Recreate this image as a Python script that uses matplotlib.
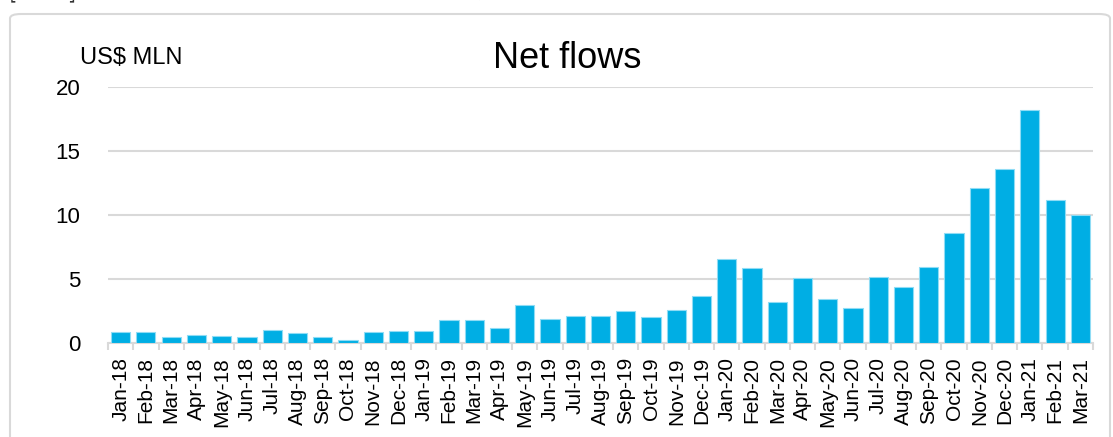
import matplotlib.pyplot as plt
from matplotlib.patches import FancyBboxPatch
import numpy as np

# Monthly net flows, US$ MLN
months = ["Jan-18", "Feb-18", "Mar-18", "Apr-18", "May-18", "Jun-18", "Jul-18",
          "Aug-18", "Sep-18", "Oct-18", "Nov-18", "Dec-18",
          "Jan-19", "Feb-19", "Mar-19", "Apr-19", "May-19", "Jun-19", "Jul-19",
          "Aug-19", "Sep-19", "Oct-19", "Nov-19", "Dec-19",
          "Jan-20", "Feb-20", "Mar-20", "Apr-20", "May-20", "Jun-20", "Jul-20",
          "Aug-20", "Sep-20", "Oct-20", "Nov-20", "Dec-20",
          "Jan-21", "Feb-21", "Mar-21"]
net_flows = [0.9, 0.9, 0.48, 0.66, 0.58, 0.53, 1.05, 0.79, 0.48, 0.22, 0.9, 0.95,
             0.95, 1.8, 1.8, 1.18, 3.0, 1.9, 2.14, 2.1, 2.53, 2.04, 2.6, 3.7,
             6.58, 5.88, 3.2, 5.1, 3.44, 2.74, 5.15, 4.4, 5.93, 8.58, 12.12, 13.58,
             18.2, 11.17, 9.98]
y_ticks = [0, 5, 10, 15, 20]

plt.rcParams['font.family'] = ['Liberation Sans', 'Noto Sans CJK JP', 'DejaVu Sans']

fig = plt.figure(figsize=(11.13, 4.37), dpi=100)

# light frame round the chart
frame = FancyBboxPatch((10 / 1113, -0.05), 1100 / 1113, 1 - 14 / 437 + 0.05,
                       boxstyle="round,pad=0,rounding_size=0.01",
                       transform=fig.transFigure, facecolor="none",
                       edgecolor="#D9D9D9", linewidth=1.5, zorder=-1)
fig.patches.append(frame)

# caption above the frame, cropped in the reference
fig.text(0.008, 1.017, "[図表5] ビットコイン・トラストへの資金流入額（月次）",
         fontsize=15, color="#333333", va="center", ha="left",
         family=['Noto Sans CJK JP', 'DejaVu Sans'])

ax = fig.add_axes([108 / 1113, 1 - 343.3 / 437, (1093 - 108) / 1113, (343.3 - 86.7) / 437])
ax.set_facecolor("none")

x = np.arange(len(months))
ax.bar(x, net_flows, width=0.76, color="#00AEE4", edgecolor="#8FDCF5",
       linewidth=0.8, zorder=3)

ax.set_xlim(-0.5, len(months) - 0.5)
ax.set_ylim(0, 20)
ax.set_yticks(y_ticks)
ax.yaxis.grid(True, color="#D9D9D9", linewidth=1.5, zorder=0)
ax.tick_params(axis="y", length=0, pad=20, labelsize=16)

ax.set_xticks(x)
ax.set_xticklabels(months, rotation=90, fontsize=15)
ax.set_xticks(np.arange(-0.5, len(months)), minor=True)
ax.tick_params(axis="x", which="major", length=0, pad=10)
ax.tick_params(axis="x", which="minor", length=5, width=1.5, color="#D9D9D9")

for side in ["top", "right", "left"]:
    ax.spines[side].set_visible(False)
ax.spines["bottom"].set_color("#D9D9D9")
ax.spines["bottom"].set_linewidth(1.5)

fig.text(567 / 1113, 1 - 58 / 437, "Net flows", fontsize=26, ha="center", va="center")
fig.text(80 / 1113, 1 - 58 / 437, "US$ MLN", fontsize=17, ha="left", va="center")

fig.savefig("out.png", dpi=100)
